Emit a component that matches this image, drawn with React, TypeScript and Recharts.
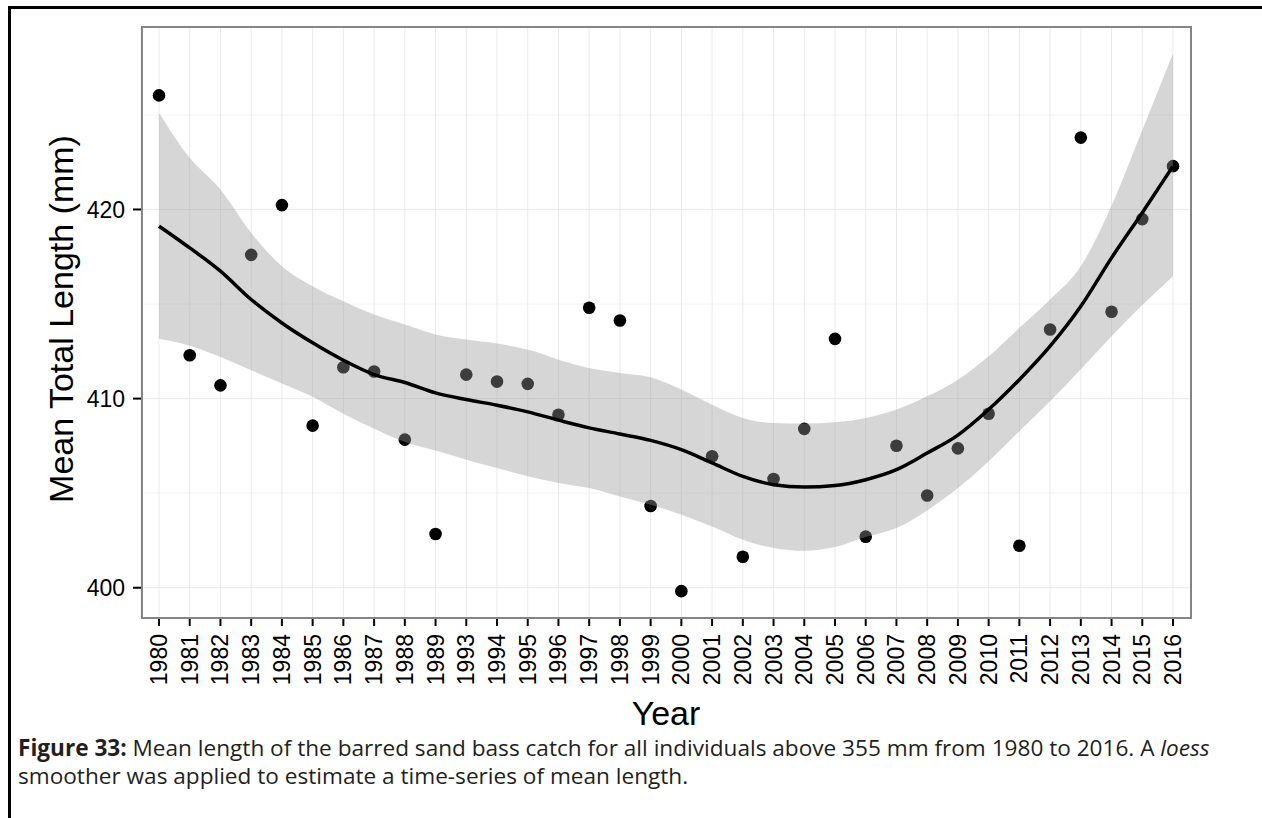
import React from 'react';
import {
  ComposedChart,
  Scatter,
  Area,
  Line,
  XAxis,
  YAxis,
  CartesianGrid,
} from 'recharts';

// survey years (1990-1992 missing)
const years = [
  '1980', '1981', '1982', '1983', '1984', '1985', '1986', '1987', '1988', '1989',
  '1993', '1994', '1995', '1996', '1997', '1998', '1999', '2000', '2001', '2002',
  '2003', '2004', '2005', '2006', '2007', '2008', '2009', '2010', '2011', '2012',
  '2013', '2014', '2015', '2016',
];

// observed mean total length (mm)
const meanLength = [
  426.03, 412.29, 410.7, 417.6, 420.23, 408.57, 411.66, 411.43, 407.83, 402.84,
  411.27, 410.9, 410.78, 409.15, 414.8, 414.13, 404.32, 399.82, 406.95, 401.64,
  405.75, 408.4, 413.16, 402.7, 407.51, 404.88, 407.37, 409.2, 402.22, 413.65,
  423.8, 414.59, 419.49, 422.29,
];

// loess fit
const loessFit = [
  419.12, 417.97, 416.74, 415.24, 414.0, 412.95, 412.03, 411.27, 410.85, 410.3,
  409.95, 409.65, 409.3, 408.86, 408.45, 408.13, 407.79, 407.3, 406.6, 405.89,
  405.45, 405.32, 405.4, 405.71, 406.24, 407.12, 408.07, 409.42, 411.0, 412.77,
  414.88, 417.44, 419.83, 422.29,
];

// confidence band
const loessUpper = [
  425.12, 422.73, 421.06, 418.77, 417.0, 415.94, 415.15, 414.44, 413.92, 413.39,
  413.12, 412.91, 412.59, 412.06, 411.62, 411.36, 411.13, 410.48, 409.68, 408.98,
  408.71, 408.68, 408.75, 408.98, 409.42, 410.12, 411.0, 412.24, 413.74, 415.24,
  417.0, 420.2, 424.2, 428.25,
];
const loessLower = [
  413.16, 412.8, 412.2, 411.5, 410.8, 410.1, 409.2, 408.4, 407.7, 407.25,
  406.77, 406.33, 405.89, 405.54, 405.27, 404.83, 404.39, 403.86, 403.24, 402.54,
  402.1, 401.95, 402.15, 402.68, 403.16, 404.09, 405.27, 406.69, 408.28, 409.86,
  411.55, 413.3, 414.95, 416.47,
];

const yTicks = [400, 410, 420];
const yMinor = [405, 415, 425];

const data = years.map((year, i) => ({
  year,
  mean: meanLength[i],
  fit: loessFit[i],
  band: [loessLower[i], loessUpper[i]],
}));

const AXIS_FONT = '"Liberation Sans", Arial, sans-serif';

const YearTick = (props: any) => {
  const { x, y, payload } = props;
  return (
    <text
      x={x}
      y={y}
      transform={`rotate(-90, ${x}, ${y})`}
      textAnchor="end"
      dominantBaseline="central"
      fontFamily={AXIS_FONT}
      fontSize={23}
      fill="#000"
    >
      {payload.value}
    </text>
  );
};

const Dot = (props: any) => {
  const { cx, cy } = props;
  if (cx == null || cy == null) return null;
  return <circle cx={cx} cy={cy} r={6.3} fill="#000" />;
};

export default function App() {
  return (
    <div
      style={{
        position: 'absolute',
        left: 0,
        top: 0,
        width: 1262,
        height: 818,
        overflow: 'hidden',
        background: '#fff',
      }}
    >
      <div
        style={{
          position: 'absolute',
          left: 8,
          top: 6,
          width: 1262,
          height: 830,
          borderTop: '3px solid #000',
          borderLeft: '3px solid #000',
        }}
      />
      <div style={{ position: 'absolute', left: 0, top: 0 }}>
        <ComposedChart
          width={1262}
          height={720}
          data={data}
          margin={{ top: 26, right: 71, bottom: 22, left: 0 }}
        >
          <CartesianGrid
            horizontalValues={yMinor}
            vertical={false}
            stroke="#f4f4f4"
            strokeWidth={1}
          />
          <CartesianGrid horizontalValues={yTicks} stroke="#ebebeb" strokeWidth={1} />
          <XAxis
            dataKey="year"
            type="category"
            interval={0}
            height={80}
            padding={{ left: 18, right: 18 }}
            axisLine={false}
            tickSize={8}
            tickMargin={8}
            tickLine={{ stroke: '#000', strokeWidth: 2 }}
            tick={<YearTick />}
          />
          <YAxis
            type="number"
            domain={[398.4, 429.7]}
            ticks={yTicks}
            width={141}
            axisLine={false}
            tickSize={8}
            tickMargin={8}
            tickLine={{ stroke: '#000', strokeWidth: 2 }}
            tick={{ fill: '#000', fontSize: 23, fontFamily: AXIS_FONT }}
          />
          <Scatter dataKey="mean" shape={<Dot />} isAnimationActive={false} />
          <Area
            dataKey="band"
            type="monotone"
            stroke="none"
            fill="#999999"
            fillOpacity={0.4}
            isAnimationActive={false}
            activeDot={false}
            zIndex={700}
          />
          <Line
            dataKey="fit"
            type="monotone"
            stroke="#000"
            strokeWidth={3.5}
            dot={false}
            activeDot={false}
            isAnimationActive={false}
            zIndex={800}
          />
        </ComposedChart>
      </div>
      {/* panel border */}
      <div
        style={{
          position: 'absolute',
          left: 141,
          top: 26,
          width: 1051,
          height: 593,
          boxSizing: 'border-box',
          border: '2px solid #858585',
          pointerEvents: 'none',
        }}
      />
      <div
        style={{
          position: 'absolute',
          left: 61 - 200,
          top: 319 - 17,
          width: 400,
          height: 34,
          lineHeight: '34px',
          fontSize: 34,
          fontFamily: AXIS_FONT,
          textAlign: 'center',
          transform: 'rotate(-90deg)',
          color: '#000',
          whiteSpace: 'nowrap',
        }}
      >
        Mean Total Length (mm)
      </div>
      <div
        style={{
          position: 'absolute',
          left: 566,
          top: 699,
          width: 200,
          height: 28,
          lineHeight: '28px',
          fontSize: 34,
          fontFamily: AXIS_FONT,
          textAlign: 'center',
          color: '#000',
        }}
      >
        Year
      </div>
      <div
        style={{
          position: 'absolute',
          left: 18,
          top: 734,
          fontFamily: '"Open Sans", Lato, sans-serif',
          fontSize: 22.6,
          lineHeight: '28px',
          color: '#231f20',
          whiteSpace: 'nowrap',
        }}
      >
        <b>Figure 33:</b> Mean length of the barred sand bass catch for all individuals above 355 mm
        from 1980 to 2016. A <i>loess</i>
        <br />
        smoother was applied to estimate a time-series of mean length.
      </div>
    </div>
  );
}
